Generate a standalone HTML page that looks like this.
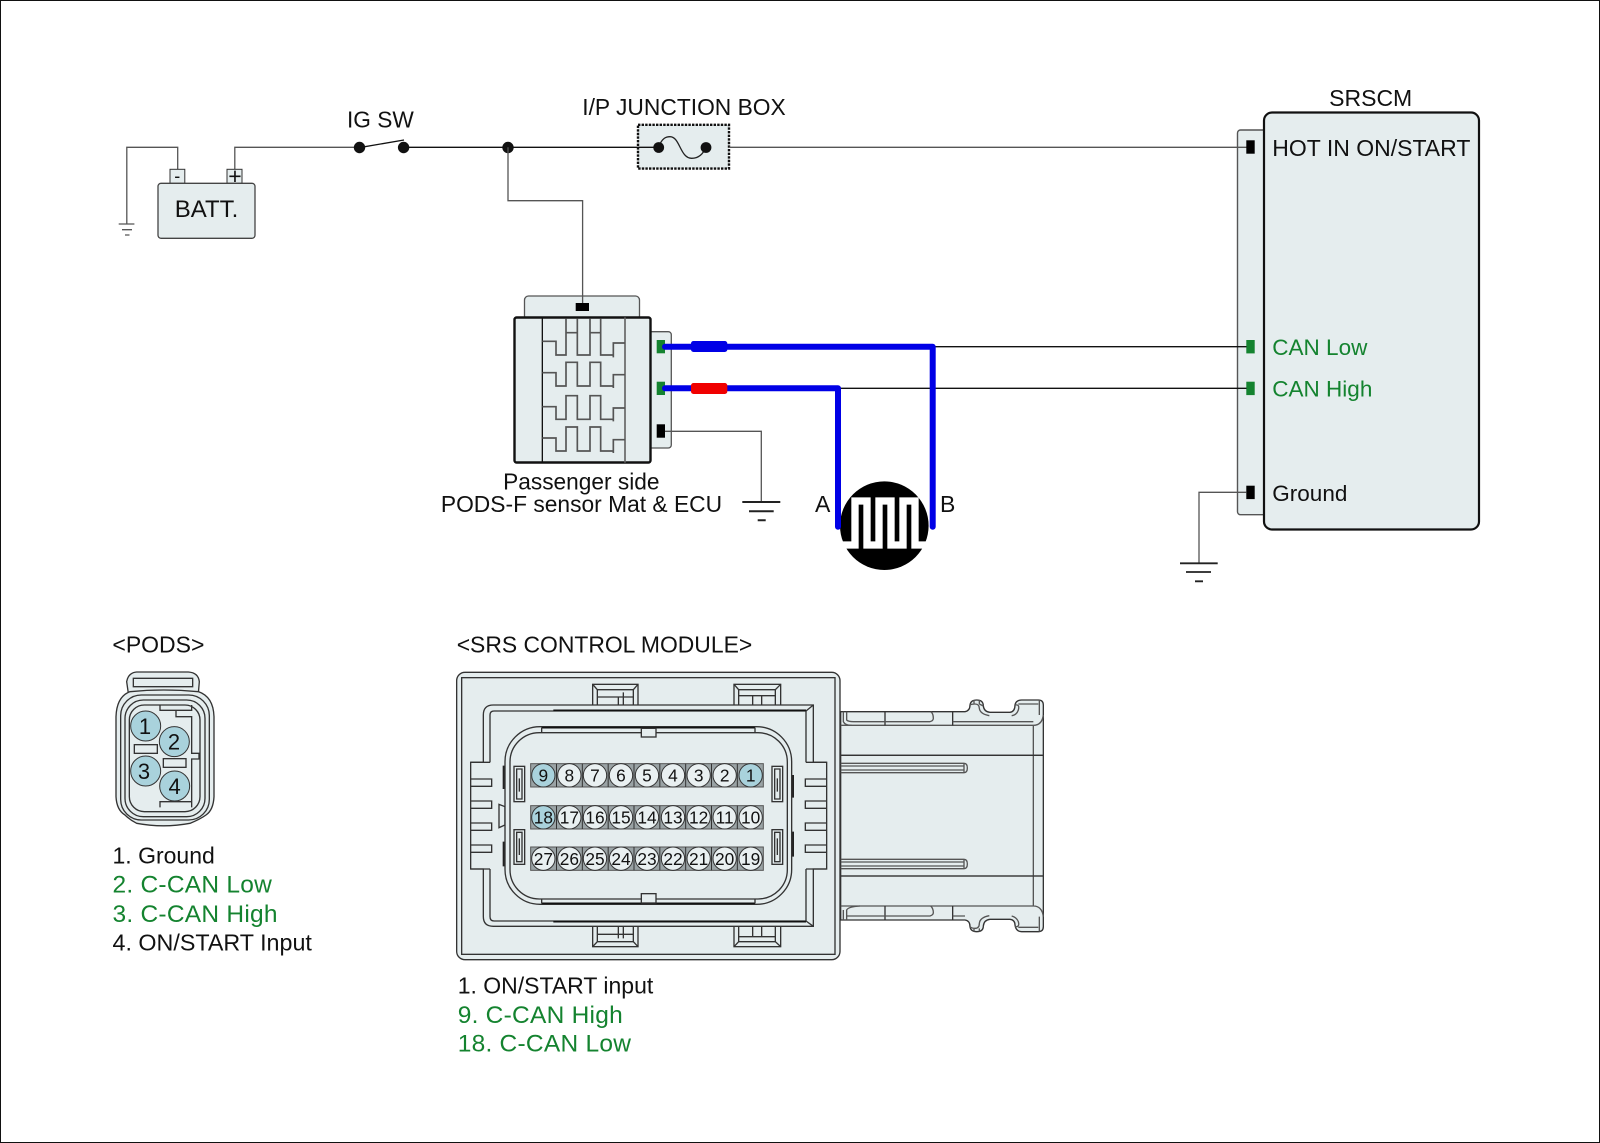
<!DOCTYPE html>
<html><head><meta charset="utf-8"><style>
html,body{margin:0;padding:0;background:#fff}
svg{display:block}
text{font-family:"Liberation Sans",sans-serif;fill:#111}
.g{fill:#14832f}
.cc{font-size:24.500px;letter-spacing:.25px}
.l{fill:#e5edee}
.w{fill:none;stroke:#555;stroke-width:1.3}
.k{fill:none;stroke:#111;stroke-width:1.3}
.o{stroke:#333;stroke-width:4;fill:none}
.of{stroke:#333;stroke-width:4;fill:#e5edee}
.t{stroke:#555;stroke-width:4;fill:none}
</style></head><body>
<svg xmlns="http://www.w3.org/2000/svg" width="1600" height="1143" viewBox="0 0 1600 1143">
<rect x="0.5" y="0.5" width="1599" height="1142" fill="#fff" stroke="#111" stroke-width="1"/>

<!-- Battery -->
<path class="w" d="M118.700,224H134.400M122,229.700H132M125,235H129.500M126.800,224V147.300H177.700V169.300"/>
<path class="w" d="M234.800,169.300V147.300H359"/>
<rect x="170" y="169.300" width="14.800" height="14" fill="#e5edee" stroke="#333" stroke-width="1"/>
<rect x="227" y="169.300" width="15" height="14" fill="#e5edee" stroke="#333" stroke-width="1"/>
<rect x="158" y="183.300" width="97" height="55" rx="3" fill="#e5edee" stroke="#444" stroke-width="1.300"/>
<text x="177.300" y="182" font-size="18" text-anchor="middle">-</text>
<text x="235" y="184" font-size="23" text-anchor="middle">+</text>
<text x="206.500" y="217" font-size="24" text-anchor="middle">BATT.</text>

<!-- Switch & top wire -->
<text x="380.400" y="127.500" font-size="22.700" text-anchor="middle">IG SW</text>
<path class="k" d="M359,147.700L404,140M403.600,147.300H637"/>
<circle cx="359.500" cy="147.500" r="5.700" fill="#111"/>
<circle cx="403.600" cy="147.500" r="5.700" fill="#111"/>
<circle cx="508" cy="147.500" r="5.700" fill="#111"/>

<!-- Junction box -->
<text x="684" y="115" font-size="22.800" text-anchor="middle">I/P JUNCTION BOX</text>
<rect x="638" y="124.800" width="91" height="43.800" fill="#e5edee" stroke="#111" stroke-width="2.400" stroke-dasharray="2.400 1.200"/>
<path class="k" d="M637,147.300H658"/>
<path d="M658.700,147C662,138 666,136.700 670,136.700C680,136.700 680,158.300 691.700,158.300C700,158.300 704,152 706,147" fill="none" stroke="#222" stroke-width="1.300"/>
<circle cx="658.700" cy="147.500" r="5.400" fill="#111"/>
<circle cx="706" cy="147.500" r="5.400" fill="#111"/>

<!-- SRSCM -->
<text x="1370.700" y="106" font-size="23" text-anchor="middle">SRSCM</text>
<rect x="1237.500" y="130" width="30" height="384.700" rx="3" fill="#e5edee" stroke="#555" stroke-width="1.400"/>
<rect x="1264" y="112.500" width="215" height="417" rx="8" fill="#e5edee" stroke="#111" stroke-width="2.200"/>
<path class="w" d="M729,147.300H1246.500"/>
<rect x="1246.300" y="140.300" width="8.400" height="13.400" fill="#000"/>
<rect x="1246.300" y="340" width="8.400" height="13.400" fill="#14832f"/>
<rect x="1246.300" y="381.700" width="8.400" height="13.400" fill="#14832f"/>
<rect x="1246.300" y="485.700" width="8.400" height="13.400" fill="#000"/>
<text x="1272.300" y="156" font-size="23">HOT IN ON/START</text>
<text x="1272.300" y="355" font-size="22.500" class="g">CAN Low</text>
<text x="1272.300" y="396.700" font-size="22.500" class="g">CAN High</text>
<text x="1272.300" y="501" font-size="22.500">Ground</text>
<path class="w" d="M1246.300,492.300H1199V563.300"/>
<path d="M1180,563.300H1217.700M1186,572H1211M1195,581.300H1203" stroke="#222" stroke-width="1.800" fill="none"/>

<!-- PODS ECU -->
<rect x="524.500" y="296" width="115" height="24" rx="4" fill="#e5edee" stroke="#555" stroke-width="1.300"/>
<path class="w" d="M508,147.300V200.700H582.600V305"/>
<rect x="575.700" y="303" width="13.300" height="8" fill="#000"/>
<rect x="645" y="331.700" width="26.300" height="116.300" rx="3" fill="#e5edee" stroke="#555" stroke-width="1.300"/>
<rect x="514.500" y="317.500" width="136" height="145" rx="2" fill="#e5edee" stroke="#111" stroke-width="2.400"/>
<g transform="translate(500,300) scale(.33333)" fill="none">
<path d="M127,52V488" stroke="#111" stroke-width="4"/>
<path d="M375,52V488" stroke="#666" stroke-width="5"/>
<path d="M127,124H168V165H198V55M198,98H232M232,55V165H270V55M270,98H302M302,55V165H340V129H375M340,165V172" stroke="#555" stroke-width="5"/>
<path d="M127,218H168V258H198V187H232V258H270V187H302V258H340V224H375M340,258V264" stroke="#555" stroke-width="5"/>
<path d="M127,320H168V358H198V287H232V358H270V287H302V358H340V324H375M340,358V364" stroke="#555" stroke-width="5"/>
<path d="M127,414H168V453H198V381H232V453H270V381H302V453H340V419H375M340,453V459" stroke="#555" stroke-width="5"/>
</g>
<rect x="656.700" y="340" width="8.300" height="13.300" fill="#14832f"/>
<rect x="656.700" y="381.700" width="8.300" height="13.300" fill="#14832f"/>
<rect x="656.700" y="424.300" width="8.300" height="13.400" fill="#000"/>
<path class="w" d="M665,431.300H761.300V501.700"/>
<path d="M742.300,502H780.300M749,511.300H773.700M757.700,520.300H765.700" stroke="#222" stroke-width="2" fill="none"/>
<text x="581.300" y="489.300" font-size="22.700" text-anchor="middle">Passenger side</text>
<text x="581.500" y="512" font-size="22.800" text-anchor="middle">PODS-F sensor Mat &amp; ECU</text>

<!-- Sensor -->
<circle cx="884.300" cy="525.700" r="44.300" fill="#000"/>
<g transform="translate(490,280) scale(.33333)">
<path d="M1058,795H1095V663H1131V795H1167V663H1203V795H1239V663H1275V795H1310" fill="none" stroke="#fff" stroke-width="22"/>
</g>

<!-- Wires -->
<path class="k" d="M932,346.700H1246.500M838,388.300H1246.500"/>
<path d="M665,346.700H932.700V526.700" fill="none" stroke="#0000e6" stroke-width="6" stroke-linejoin="round" stroke-linecap="round"/>
<path d="M665,388.300H838V526.700" fill="none" stroke="#0000e6" stroke-width="6" stroke-linejoin="round" stroke-linecap="round"/>
<rect x="691" y="341" width="36.300" height="11" rx="2.500" fill="#0000e6"/>
<rect x="691" y="383" width="36.300" height="11" rx="2.500" fill="#f00000"/>
<text x="815" y="512" font-size="23">A</text>
<text x="940" y="512" font-size="23">B</text>

<!-- Lower labels -->
<text x="112.400" y="652.500" font-size="23">&lt;PODS&gt;</text>
<text x="456.700" y="652.500" font-size="22.900">&lt;SRS CONTROL MODULE&gt;</text>
<text x="112.500" y="863.500" font-size="23">1. Ground</text>
<text x="112.500" y="892.500" class="g cc">2. C-CAN Low</text>
<text x="112.500" y="922" class="g cc">3. C-CAN High</text>
<text x="112.500" y="950.500" font-size="23.300">4. ON/START Input</text>
<text x="457.700" y="993.500" font-size="23">1. ON/START input</text>
<text x="457.700" y="1023" class="g cc">9. C-CAN High</text>
<text x="457.700" y="1051.500" class="g cc">18. C-CAN Low</text>

<!-- PODS connector -->
<g transform="translate(100,660) scale(.33333)">
<path class="of" d="M85,100L80,65Q85,38 110,36L265,36Q295,38 298,65L295,100Z"/>
<path class="o" d="M100,80V55H278V80Z"/>
<path class="of" d="M90,95Q50,110 48,170L48,410Q50,450 75,465Q90,480 110,490Q190,505 270,490Q300,478 318,465Q340,450 342,410L342,170Q340,110 295,95Q190,85 90,95Z"/>
<rect x="62" y="105" width="266" height="375" rx="62" class="of"/>
<rect x="75" y="120" width="240" height="350" rx="55" class="of"/>
<rect x="88" y="135" width="212" height="320" rx="45" class="of"/>
<path class="o" d="M180,135V151H275V135M180,442V425H275V442M228,151V170H275V280H297V297H275V425"/>
<circle cx="137" cy="198" r="45" fill="#a9d2dc" stroke="#333" stroke-width="3"/>
<circle cx="223" cy="245" r="45" fill="#a9d2dc" stroke="#333" stroke-width="3"/>
<circle cx="137" cy="333" r="45" fill="#a9d2dc" stroke="#333" stroke-width="3"/>
<circle cx="224" cy="378" r="45" fill="#a9d2dc" stroke="#333" stroke-width="3"/>
<rect x="103" y="254" width="69" height="26" class="of"/>
<rect x="190" y="296" width="68" height="26" class="of"/>
<g font-size="66" text-anchor="middle">
<text x="135" y="222">1</text>
<text x="222" y="269">2</text>
<text x="132" y="357">3</text>
<text x="224" y="402">4</text>
</g>
</g>

<!-- SRS connector: rear body -->
<g transform="translate(830,680) scale(.33333)">
<path class="of" d="M32,95L405,95Q420,92 420,75Q422,60 440,60Q460,60 460,78Q462,95 480,97L540,97Q555,95 555,75Q558,60 575,60L625,60Q640,60 640,75L640,740Q640,755 625,755L575,755Q558,755 555,735Q555,720 540,718L480,718Q462,720 460,738Q460,755 440,755Q422,755 420,740Q420,722 405,720L32,720Z"/>
<path class="t" d="M32,136H610V678H32M32,226H640M32,588H640M610,136Q636,136 640,105M610,678Q636,678 640,710"/>
<path class="o" d="M32,226H640M32,588H640M165,95V136M368,95V136M165,678V720M368,678V720"/>
<path class="t" d="M40,95V125Q45,136 65,136M50,95V120Q55,125 70,125H300Q310,122 310,115Q310,100 302,95M40,720V690M50,720V690Q55,680 90,678M50,708H300Q310,705 310,698Q310,685 302,678M368,125H610M368,708H405"/>
<path class="t" d="M32,250H402Q412,250 412,264Q412,278 402,278H32M32,258H402M32,270H402M402,250V278"/>
<path class="t" d="M32,538H402Q412,538 412,552Q412,566 402,566H32M32,546H402M32,558H402M402,538V566"/>
<path class="t" d="M420,75Q425,72 435,72Q448,72 448,85Q450,102 478,107M460,78L448,72M432,60V70M448,60V72M555,75Q570,72 565,90Q560,105 545,107M565,72H625M628,60V105"/>
<path class="t" d="M420,740Q425,745 435,745Q448,745 448,730Q450,712 478,707M432,755V745M448,755V745M555,740Q570,742 565,725Q560,712 545,708M565,742H625M628,755V710"/>
</g>

<!-- SRS connector: front -->
<g transform="translate(450,665) scale(.33333)">
<rect x="20" y="22" width="1150" height="862" rx="25" class="of"/>
<rect x="35" y="38" width="1120" height="830" class="o"/>
<!-- tabs -->
<g class="of">
<rect x="428" y="58" width="136" height="90"/><rect x="852" y="58" width="140" height="90"/>
<rect x="428" y="755" width="136" height="90"/><rect x="852" y="755" width="140" height="90"/>
</g>
<path class="o" d="M428,58L442,74H550L564,58M442,74V135M550,74V135M442,96H550M505,96V135M520,82V135M852,58L866,74H976L992,58M866,74V135M976,74V135M866,92H976M908,92V135M935,92V135"/>
<path class="o" d="M428,845L442,830H550L564,845M442,830V770M550,830V770M442,808H550M505,770V820M520,770V820M852,845L866,830H976L992,845M866,830V770M976,830V770M866,815H976M908,770V815M935,770V815"/>
<!-- stepped frame -->
<path class="of" d="M130,120H1090V292H1130V612H1090V784H130Q100,784 100,755V612H62V292H100V150Q100,120 130,120Z"/>
<path class="o" d="M120,292V150Q120,138 132,138H1068V292M1068,612V768H132Q120,768 120,755V612"/>
<path d="M310,136H1068M310,770H1068" stroke="#111" stroke-width="5" fill="none"/>
<path class="o" d="M1068,138L1090,120M1068,768L1090,784M62,292H120M62,612H120M1068,292H1130M1068,612H1130"/>
<!-- side teeth -->
<path class="o" d="M62,342H125V364H62M62,408H125V430H62M62,474H125V496H62M62,540H125V562H62M1130,342H1066V364H1130M1130,408H1066V430H1130M1130,474H1066V496H1130M1130,540H1066V562H1130"/>
<path class="of" d="M147,418L165,425V480L147,488Z"/>
<path d="M162,302V372M162,530V604M1028,330V398M1028,500V575" stroke="#222" stroke-width="8" fill="none"/>
<!-- shroud -->
<rect x="165" y="185" width="860" height="533" rx="105" class="of"/>
<rect x="180" y="203" width="832" height="499" rx="88" class="of"/>
<path d="M275,188H915M275,715H915" stroke="#111" stroke-width="5" fill="none"/>
<path class="o" d="M275,188V203M915,188V203M275,715V702M915,715V702"/>
<rect x="574" y="190" width="44" height="26" class="of"/>
<rect x="574" y="686" width="44" height="28" class="of"/>
<!-- slots -->
<g class="of">
<rect x="192" y="304" width="32" height="106"/><rect x="192" y="494" width="32" height="104"/>
<rect x="966" y="304" width="32" height="106"/><rect x="966" y="494" width="32" height="104"/>
</g>
<path class="o" d="M200,312H216V402H200ZM200,502H216V590H200ZM974,312H990V402H974ZM974,502H990V590H974ZM208,340V380M208,520V570M982,340V380M982,520V570"/>
<!-- pin rows -->
<g fill="#9aa3a5" stroke="#555" stroke-width="3">
<rect x="242" y="296" width="698" height="70"/>
<rect x="242" y="422" width="698" height="70"/>
<rect x="242" y="546" width="698" height="70"/>
</g>
<path d="M319.500,296v70M397,296v70M474.500,296v70M552,296v70M629.500,296v70M707,296v70M784.500,296v70M862,296v70M319.500,422v70M397,422v70M474.500,422v70M552,422v70M629.500,422v70M707,422v70M784.500,422v70M862,422v70M319.500,546v70M397,546v70M474.500,546v70M552,546v70M629.500,546v70M707,546v70M784.500,546v70M862,546v70" stroke="#333" stroke-width="3"/>
<g fill="#e9f0f1" stroke="#333" stroke-width="3">
<circle cx="280" cy="331" r="35" fill="#a9d2dc"/><circle cx="358" cy="331" r="35"/><circle cx="435" cy="331" r="35"/><circle cx="513" cy="331" r="35"/><circle cx="591" cy="331" r="35"/><circle cx="669" cy="331" r="35"/><circle cx="746" cy="331" r="35"/><circle cx="824" cy="331" r="35"/><circle cx="902" cy="331" r="35" fill="#a9d2dc"/>
<circle cx="280" cy="457" r="35" fill="#a9d2dc"/><circle cx="358" cy="457" r="35"/><circle cx="435" cy="457" r="35"/><circle cx="513" cy="457" r="35"/><circle cx="591" cy="457" r="35"/><circle cx="669" cy="457" r="35"/><circle cx="746" cy="457" r="35"/><circle cx="824" cy="457" r="35"/><circle cx="902" cy="457" r="35"/>
<circle cx="280" cy="581" r="35"/><circle cx="358" cy="581" r="35"/><circle cx="435" cy="581" r="35"/><circle cx="513" cy="581" r="35"/><circle cx="591" cy="581" r="35"/><circle cx="669" cy="581" r="35"/><circle cx="746" cy="581" r="35"/><circle cx="824" cy="581" r="35"/><circle cx="902" cy="581" r="35"/>
</g>
<g font-size="52" text-anchor="middle">
<text x="280" y="350">9</text><text x="358" y="350">8</text><text x="435" y="350">7</text><text x="513" y="350">6</text><text x="591" y="350">5</text><text x="669" y="350">4</text><text x="746" y="350">3</text><text x="824" y="350">2</text><text x="902" y="350">1</text>
<text x="280" y="476">18</text><text x="358" y="476">17</text><text x="435" y="476">16</text><text x="513" y="476">15</text><text x="591" y="476">14</text><text x="669" y="476">13</text><text x="746" y="476">12</text><text x="824" y="476">11</text><text x="902" y="476">10</text>
<text x="280" y="600">27</text><text x="358" y="600">26</text><text x="435" y="600">25</text><text x="513" y="600">24</text><text x="591" y="600">23</text><text x="669" y="600">22</text><text x="746" y="600">21</text><text x="824" y="600">20</text><text x="902" y="600">19</text>
</g>
</g>
</svg>
</body></html>
